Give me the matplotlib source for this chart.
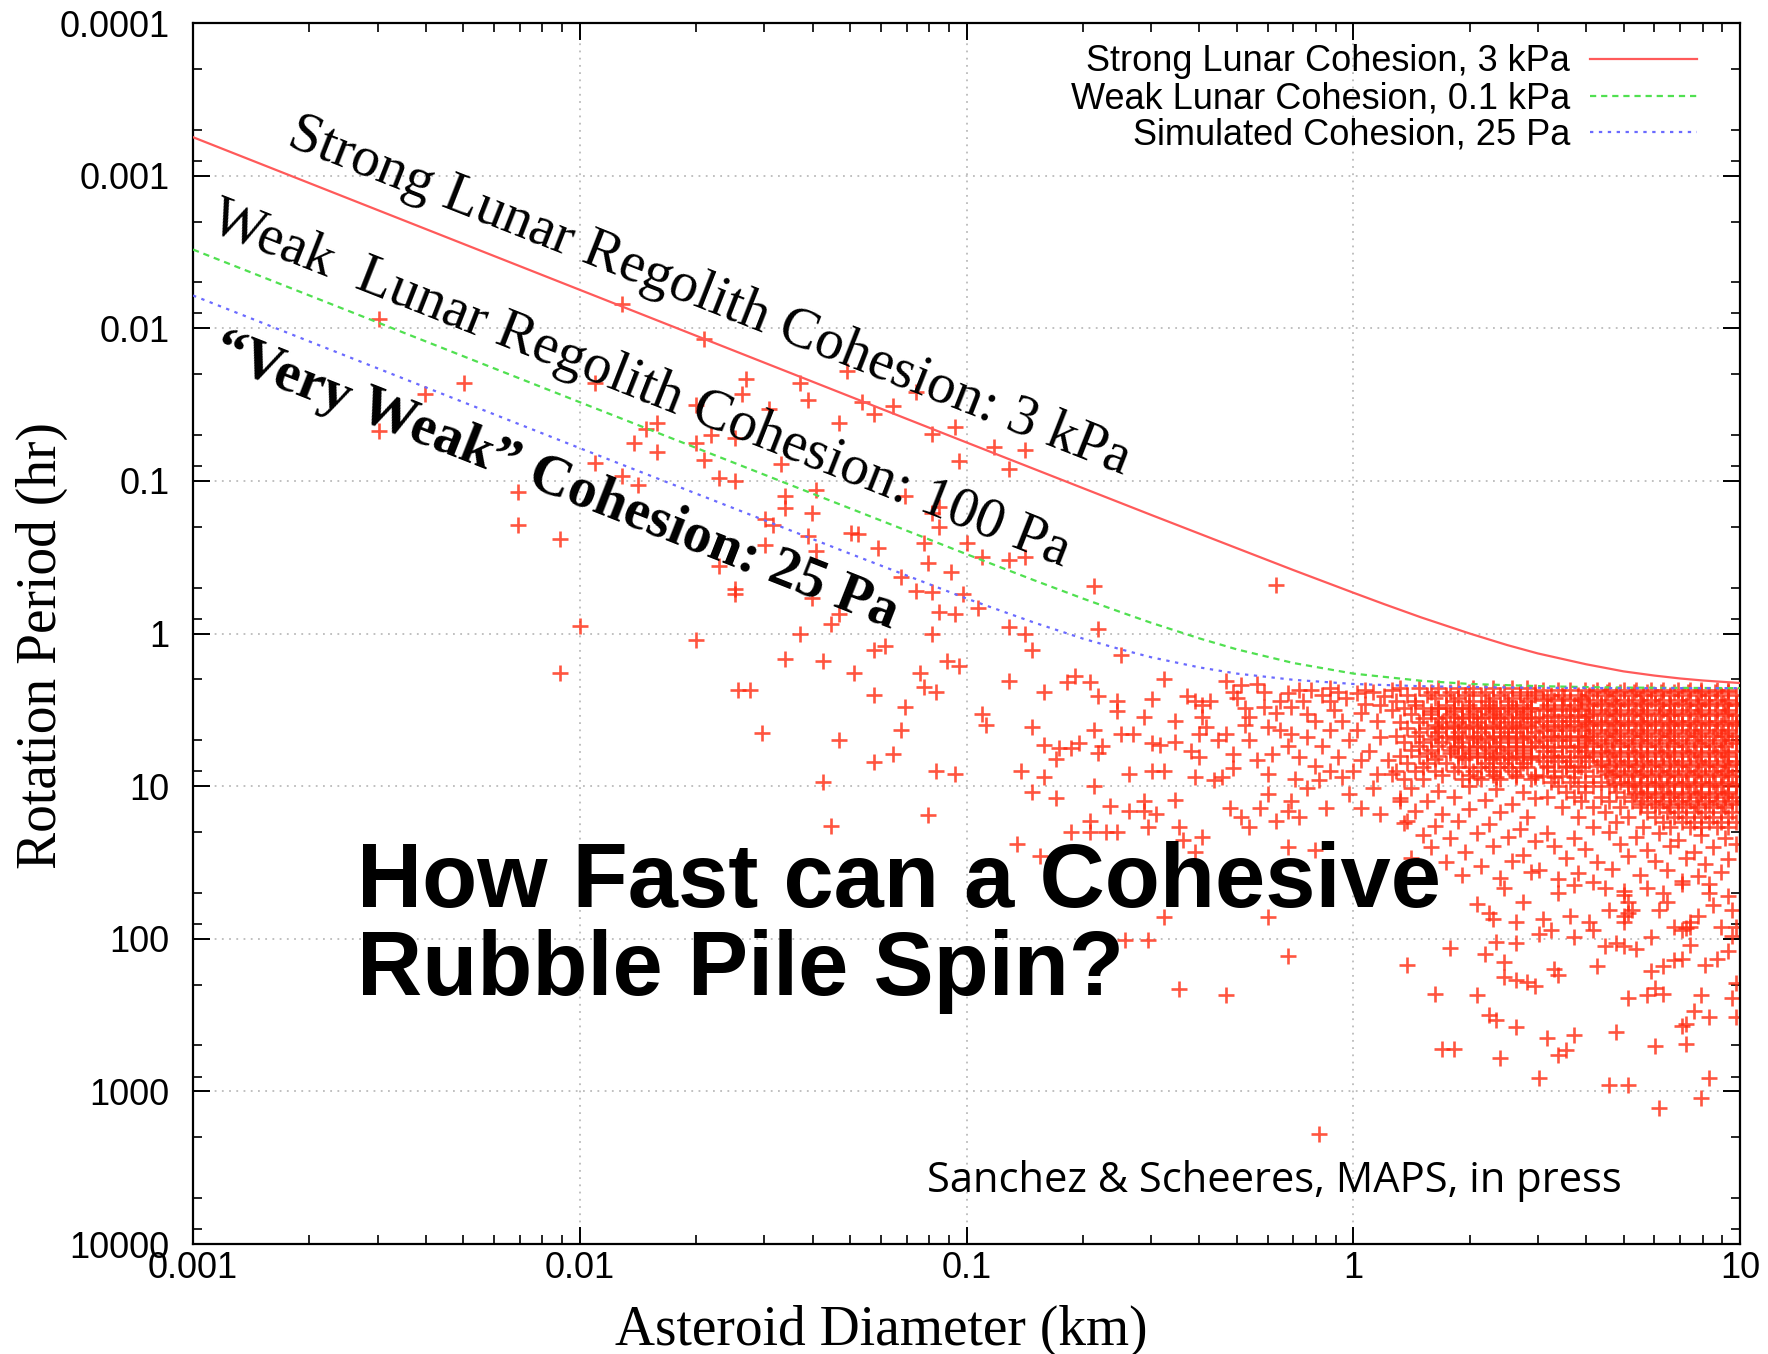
import numpy as np
import matplotlib
matplotlib.use('Agg')
import matplotlib.pyplot as plt
from matplotlib.ticker import LogLocator, NullFormatter, FuncFormatter

plt.rcParams['font.family'] = ['Liberation Sans', 'DejaVu Sans']

### spin limit curves: diameter (km) / period (hr)
strong_d = [0.001, 0.01, 0.1, 0.3, 0.5, 0.7, 1, 1.2, 1.5, 2, 2.5, 3, 4, 5, 6, 7, 8, 10]
strong_p = [5.6e-4, 5.6e-3, 0.056, 0.167, 0.276, 0.384, 0.54, 0.641, 0.785, 1.0, 1.19, 1.35, 1.59,
            1.77, 1.885, 1.97, 2.03, 2.11]
weak_d = [0.001, 0.01, 0.1, 0.15, 0.2, 0.25, 0.3, 0.4, 0.5, 0.7, 1, 1.5, 2, 3, 4, 5, 10]
weak_p = [3.05e-3, 0.0305, 0.302, 0.449, 0.59, 0.723, 0.85, 1.076, 1.27, 1.56, 1.83, 2.04, 2.14,
          2.21, 2.243, 2.26, 2.28]
sim_d = [0.001, 0.01, 0.05, 0.1, 0.15, 0.2, 0.25, 0.3, 0.4, 0.5, 0.7, 1, 1.5, 2, 3, 5, 10]
sim_p = [6.1e-3, 0.061, 0.30, 0.59, 0.85, 1.08, 1.268, 1.43, 1.667, 1.83, 2.01, 2.14, 2.214, 2.24,
         2.267, 2.28, 2.28]

### asteroids, (log10 diameter km, log10 period hr)
sparse_pts = [
 (-2.52,-2.06),(-1.89,-2.16),(-1.68,-1.93),(-2.30,-1.64),(-2.40,-1.57),(-2.52,-1.33),(-1.96,-1.64),
 (-1.57,-1.67),(-1.58,-1.57),(-1.70,-1.50),(-1.80,-1.38),(-1.83,-1.34),(-1.86,-1.25),(-1.80,-1.19),
 (-1.70,-1.25),(-1.66,-1.30),(-1.60,-1.28),(-1.68,-1.14),(-1.96,-1.12),(-1.89,-1.03),(-1.85,-0.97),
 (-1.64,-1.02),(-1.60,-1.00),(-2.16,-0.93),(-2.16,-0.71),(-2.05,-0.62),(-2.00,-0.05),(-2.05,0.26),
 (-1.70,0.04),(-1.59,0.37),(-1.56,0.37),(-1.60,-0.26),(-1.60,-0.29),(-1.64,-0.44),(-1.53,0.65),
 (-1.41,-1.53),(-1.51,-1.47),(-1.43,-1.64),(-1.27,-1.52),(-1.24,-1.44),(-1.19,-1.49),(-1.33,-1.38),
 (-1.13,-1.58),(-1.09,-1.31),(-1.03,-1.35),(-1.02,-1.13),(-0.93,-1.22),(-0.85,-1.20),(-0.89,-1.08),
 (-1.48,-1.11),(-1.47,-0.90),(-1.47,-0.82),(-1.39,-0.94),(-1.40,-0.79),(-1.52,-0.75),(-1.50,-0.71),
 (-1.52,-0.58),(-1.41,-0.64),(-1.39,-0.54),(-1.30,-0.66),(-1.28,-0.65),(-1.23,-0.56),(-1.16,-0.90),
 (-1.07,-0.83),(-1.07,-0.70),(-1.09,-0.79),(-1.11,-0.59),(-1.10,-0.46),(-1.04,-0.40),(-1.00,-0.59),
 (-0.96,-0.50),(-0.89,-0.48),(-0.85,-0.50),(-1.17,-0.37),(-1.13,-0.28),(-1.09,-0.27),(-1.01,-0.26),
 (-1.07,-0.14),(-1.03,-0.13),(-0.97,-0.17),(-1.33,-0.13),(-1.35,-0.06),(-1.40,-0.23),(-1.43,0.00),
 (-1.09,0.00),(-0.89,-0.04),(-0.85,0.00),(-0.67,-0.31),(-0.66,-0.03),(-0.83,0.11),(-0.60,0.14),
 (-1.47,0.17),(-1.37,0.18),(-1.24,0.11),(-1.21,0.08),(-1.29,0.26),(-1.12,0.26),(-1.11,0.35),
 (-1.08,0.38),(-1.05,0.18),(-1.02,0.21),(-0.89,0.31),(-1.24,0.40),(-1.16,0.48),(-1.17,0.63),
 (-0.96,0.53),(-0.95,0.60),(-1.33,0.70),(-1.19,0.79),(-1.24,0.84),(-1.08,0.90),(-1.03,0.92),
 (-1.37,0.97),(-1.10,1.19),(-1.35,1.26),(-0.86,0.90),(-0.83,1.04),(-0.77,1.08),(-0.80,0.94),
 (-0.80,0.38),(-0.74,0.32),(-0.72,0.28),(-0.68,0.32),(-0.66,0.41),(-0.61,0.44),(-0.61,0.51),
 (-0.54,0.55),(-0.52,0.43),(-0.49,0.30),(-0.46,0.57),(-0.67,0.63),(-0.60,0.66),(-0.57,0.66),
 (-0.83,0.61),(-0.80,0.73),(-0.76,0.75),(-0.73,0.75),(-0.71,0.72),(-0.77,0.82),(-0.66,0.78),
 (-0.65,0.74),(-0.58,0.92),(-0.52,0.90),(-0.49,0.90),(-0.52,0.72),(-0.50,0.73),(-0.46,0.71),
 (-0.67,1.00),(-0.63,1.13),(-0.58,1.16),(-0.54,1.10),(-0.54,1.16),(-0.51,1.18),(-0.46,1.09),
 (-0.68,1.23),(-0.73,1.30),(-0.68,1.30),(-0.64,1.30),(-0.61,1.30),(-0.53,1.27),(-0.45,1.27),
 (-0.44,1.35),(-0.87,1.38),(-0.39,1.33),(-0.43,0.41),(-0.41,0.44),(-0.39,0.47),(-0.37,0.44),
 (-0.39,0.55),(-0.38,0.61),(-0.40,0.66),(-0.42,0.77),(-0.40,0.81),(-0.41,0.94),(-0.36,0.96),
 (-0.35,0.70),(-1.31,-1.72),(-0.20,-0.32),(-0.81,1.46),(-0.59,2.01),(-0.53,2.01),(-0.49,1.86),
 (-0.41,1.43),
]
mid_pts = [
 (-0.33,0.31),(-0.31,0.38),(-0.29,0.34),(-0.27,0.55),(-0.28,0.49),(-0.23,0.38),(-0.23,0.48),
 (-0.22,0.61),(-0.19,0.44),(-0.17,0.39),(-0.16,0.48),(-0.13,0.44),(-0.11,0.37),(-0.08,0.40),
 (-0.06,0.44),(-0.04,0.38),(-0.02,0.42),(0.01,0.39),(0.03,0.46),(0.05,0.38),(0.08,0.41),(0.10,0.37),
 (-0.33,0.66),(-0.31,0.79),(-0.31,0.88),(-0.27,0.70),(-0.25,0.83),(-0.21,0.79),(-0.19,0.63),
 (-0.17,0.74),(-0.16,0.66),(-0.14,0.81),(-0.12,0.68),(-0.10,0.57),(-0.08,0.74),(-0.06,0.63),
 (-0.04,0.81),(-0.03,0.57),(-0.01,0.70),(0.01,0.63),(0.02,0.83),(0.04,0.77),(0.06,0.57),(0.07,0.68),
 (0.09,0.83),(0.10,0.50),(-0.34,0.94),(-0.32,1.14),(-0.29,1.20),(-0.27,1.27),(-0.24,1.14),
 (-0.22,1.05),(-0.20,1.23),(-0.17,1.16),(-0.16,1.10),(-0.14,1.20),(-0.12,1.01),(-0.09,0.96),
 (-0.07,1.14),(-0.06,0.90),(-0.03,0.94),(-0.01,1.05),(0.02,1.14),(0.05,1.01),(0.07,1.18),(0.10,0.92),
 (0.12,1.10),(0.14,1.23),(-0.17,1.40),(-0.10,1.42),(-0.30,0.42),(-0.25,0.33),(-0.20,0.52),
 (-0.12,0.53),(-0.05,0.50),(0.02,0.52),(0.07,0.47),(-0.28,0.60),(-0.10,0.87),(0.00,0.90),(0.06,0.92),
 (-0.15,0.95),(-0.22,0.92),(0.03,0.37),(-0.06,0.36),(-0.14,0.37),
 (0.15,1.01),(0.22,1.03),(0.30,1.00),(0.37,1.02),(0.44,1.04),(0.12,1.08),(0.19,1.10),(0.26,1.07),
 (0.34,1.09),(0.41,1.12),(0.47,1.08),(0.16,1.16),(0.23,1.18),(0.30,1.15),(0.38,1.17),(0.45,1.20),
 (0.13,1.24),(0.21,1.26),(0.27,1.23),(0.35,1.25),(0.43,1.28),(0.18,1.32),(0.25,1.34),(0.32,1.31),
 (0.40,1.33),(0.47,1.36),(0.20,1.40),(0.29,1.43),(0.36,1.39),(0.44,1.45),(0.24,1.50),(0.33,1.52),
 (0.41,1.49),(0.46,1.56),(0.28,1.58),(0.38,1.60),(0.15,1.47),
 (0.50,1.31),(0.57,1.34),(0.66,1.30),(0.73,1.33),(0.79,1.31),(0.84,1.35),(0.90,1.32),(0.96,1.34),
 (0.52,1.39),(0.60,1.41),(0.69,1.38),(0.76,1.42),(0.82,1.39),(0.88,1.43),(0.93,1.40),(0.99,1.38),
 (0.55,1.47),(0.63,1.50),(0.71,1.46),(0.78,1.49),(0.86,1.47),(0.91,1.51),(0.97,1.48),
 (0.48,1.55),(0.58,1.57),(0.67,1.54),(0.74,1.58),(0.81,1.55),(0.89,1.59),(0.95,1.56),
 (0.53,1.61),(0.62,1.63),(0.85,1.62),(0.92,1.64),
]
tail_pts = [
 (-0.22,1.86),(-0.17,2.11),(-0.45,2.33),(-0.33,2.37),(-0.09,3.28),(0.14,2.17),(0.25,2.06),(0.21,2.36),
 (0.32,2.37),(0.23,2.72),(0.26,2.72),(0.38,2.78),(0.48,2.91),(0.35,2.50),(0.37,2.53),(0.42,2.58),
 (0.50,2.65),(0.53,2.76),(0.55,2.73),(0.57,2.63),(0.66,2.96),(0.71,2.96),(0.68,2.61),(0.78,2.70),
 (0.79,3.11),(0.86,2.69),(0.85,2.57),(0.86,2.56),(0.88,2.47),(0.92,2.51),(0.92,2.91),(0.90,3.04),
 (0.71,2.39),(0.76,2.37),(0.80,2.36),(0.78,2.32),(0.90,2.37),(0.63,2.18),(0.52,2.20),(0.53,2.24),
 (0.39,2.25),(0.42,2.27),(0.45,2.28),(0.47,2.31),(0.39,2.15),(0.34,2.10),(0.37,2.02),(0.42,2.03),
 (0.48,1.97),(0.57,1.99),(0.65,2.05),(0.68,2.03),(0.70,2.05),(0.73,2.07),(0.77,1.99),(0.80,2.18),
 (0.83,2.14),(0.85,2.13),(0.87,2.04),(0.91,2.17),(0.94,2.13),(0.97,2.08),(0.99,2.29),(0.98,2.39),
 (0.99,2.51),(0.77,2.21),(0.32,1.77),(0.35,1.83),(0.36,1.87),(0.42,1.89),(0.49,1.87),(0.51,1.94),
 (0.56,1.85),(0.61,1.89),(0.62,1.94),(0.66,1.81),(0.70,1.85),(0.72,1.81),(0.79,1.81),(0.81,1.76),
 (0.87,1.89),(0.89,1.85),(0.93,1.78),(0.95,1.92),(0.98,1.98),(0.83,1.92),(0.97,1.72),(0.39,1.67),
 (0.44,1.76),(0.53,1.70),(0.57,1.65),(0.65,1.67),(0.70,1.69),(0.76,1.67),(0.80,1.70),(0.85,1.64),
 (0.92,1.70),(0.98,1.81),(0.99,1.92),(0.70,1.71),(0.71,1.76),(0.71,1.83),(0.70,1.89),(0.86,1.93),
 (0.87,1.92),(0.85,1.94),
]

# crowded part (too dense to separate single marks): rows of log10 period with log10 diameters
row_logp = [0.36, 0.40, 0.44, 0.49, 0.53, 0.58, 0.62, 0.67, 0.71, 0.76, 0.80, 0.85, 0.90, 0.95,
            0.38, 0.42, 0.465, 0.51, 0.555, 0.60, 0.645, 0.69, 0.735, 0.78, 0.825, 0.875, 0.925,
            0.37, 0.40, 0.435, 0.47, 0.50, 0.535, 0.57, 0.60, 0.635, 0.67, 0.70, 0.735, 0.77, 0.80,
            0.835, 0.87, 0.90, 0.935, 0.97, 1.00, 1.035, 1.07, 1.10, 1.135, 1.17, 1.20, 1.235, 1.27,
            0.385, 0.4525, 0.5175, 0.5875, 0.6525, 0.7175, 0.785, 0.8525, 0.9175, 0.985, 1.05, 1.12,
            0.42, 0.485, 0.55, 0.615, 0.68, 0.745, 0.81, 0.875, 0.94]
row_logd = [
 [0.12, 0.17, 0.22, 0.27, 0.31, 0.36, 0.41, 0.45],
 [0.14, 0.19, 0.24, 0.29, 0.33, 0.38, 0.43, 0.47],
 [0.11, 0.16, 0.26, 0.31, 0.35, 0.40, 0.45],
 [0.13, 0.18, 0.22, 0.28, 0.33, 0.37, 0.42, 0.46],
 [0.15, 0.20, 0.25, 0.30, 0.35, 0.39, 0.44],
 [0.12, 0.17, 0.23, 0.27, 0.32, 0.37, 0.41, 0.46],
 [0.14, 0.19, 0.24, 0.29, 0.34, 0.39, 0.43],
 [0.11, 0.16, 0.21, 0.26, 0.31, 0.36, 0.40, 0.45],
 [0.13, 0.18, 0.23, 0.28, 0.33, 0.38, 0.42, 0.47],
 [0.15, 0.20, 0.25, 0.30, 0.35, 0.40, 0.44],
 [0.12, 0.17, 0.22, 0.27, 0.32, 0.37, 0.42, 0.46],
 [0.14, 0.19, 0.24, 0.34, 0.39, 0.44],
 [0.11, 0.16, 0.21, 0.26, 0.31, 0.36, 0.41],
 [0.13, 0.18, 0.28, 0.33, 0.38, 0.46],
 [0.20, 0.25, 0.30, 0.34, 0.39, 0.43, 0.47],
 [0.21, 0.27, 0.36, 0.41, 0.46],
 [0.16, 0.24, 0.30, 0.35, 0.40, 0.44],
 [0.20, 0.26, 0.31, 0.36, 0.41, 0.45],
 [0.18, 0.22, 0.28, 0.33, 0.38, 0.43, 0.47],
 [0.21, 0.26, 0.31, 0.36, 0.41, 0.45],
 [0.17, 0.22, 0.27, 0.33, 0.38, 0.42, 0.47],
 [0.20, 0.26, 0.31, 0.35, 0.40, 0.44],
 [0.17, 0.22, 0.27, 0.32, 0.37, 0.42, 0.46],
 [0.19, 0.25, 0.30, 0.34, 0.39, 0.44],
 [0.21, 0.29, 0.36, 0.41, 0.46],
 [0.18, 0.27, 0.33, 0.38, 0.43],
 [0.23, 0.30, 0.36, 0.42, 0.47],
 [0.49, 0.53, 0.56, 0.60, 0.63, 0.66, 0.70, 0.73, 0.77, 0.80, 0.84, 0.87, 0.90, 0.94, 0.97],
 [0.51, 0.54, 0.58, 0.61, 0.65, 0.68, 0.72, 0.75, 0.78, 0.82, 0.85, 0.89, 0.92, 0.95, 0.99],
 [0.49, 0.52, 0.56, 0.59, 0.63, 0.67, 0.70, 0.74, 0.77, 0.80, 0.84, 0.87, 0.91, 0.94, 0.97],
 [0.50, 0.54, 0.57, 0.61, 0.64, 0.68, 0.71, 0.75, 0.79, 0.82, 0.86, 0.89, 0.92, 0.96, 0.99],
 [0.49, 0.52, 0.56, 0.59, 0.62, 0.66, 0.69, 0.73, 0.76, 0.80, 0.83, 0.87, 0.90, 0.94, 0.97],
 [0.51, 0.55, 0.58, 0.61, 0.65, 0.68, 0.72, 0.75, 0.79, 0.82, 0.85, 0.89, 0.92, 0.96, 0.99],
 [0.49, 0.53, 0.56, 0.60, 0.63, 0.67, 0.70, 0.74, 0.77, 0.81, 0.84, 0.87, 0.91, 0.94, 0.98],
 [0.50, 0.54, 0.57, 0.61, 0.64, 0.68, 0.71, 0.75, 0.78, 0.82, 0.85, 0.88, 0.92, 0.95, 0.99],
 [0.49, 0.52, 0.55, 0.59, 0.62, 0.66, 0.69, 0.73, 0.76, 0.80, 0.83, 0.87, 0.90, 0.94, 0.97],
 [0.51, 0.54, 0.58, 0.61, 0.65, 0.68, 0.72, 0.75, 0.79, 0.82, 0.86, 0.89, 0.93, 0.96, 0.99],
 [0.49, 0.53, 0.56, 0.60, 0.63, 0.67, 0.70, 0.74, 0.77, 0.81, 0.84, 0.88, 0.91, 0.95, 0.98],
 [0.50, 0.55, 0.58, 0.62, 0.65, 0.69, 0.72, 0.76, 0.79, 0.83, 0.86, 0.90, 0.93, 0.96],
 [0.49, 0.52, 0.57, 0.60, 0.64, 0.67, 0.71, 0.74, 0.78, 0.81, 0.85, 0.88, 0.92, 0.95, 0.99],
 [0.51, 0.54, 0.59, 0.62, 0.66, 0.69, 0.73, 0.76, 0.80, 0.83, 0.87, 0.90, 0.94, 0.97],
 [0.49, 0.53, 0.56, 0.61, 0.64, 0.68, 0.71, 0.75, 0.78, 0.82, 0.85, 0.89, 0.92, 0.96, 0.99],
 [0.50, 0.55, 0.58, 0.63, 0.66, 0.70, 0.73, 0.77, 0.80, 0.84, 0.87, 0.91, 0.94, 0.97],
 [0.52, 0.57, 0.60, 0.65, 0.68, 0.72, 0.75, 0.79, 0.82, 0.86, 0.89, 0.93, 0.96, 0.99],
 [0.49, 0.54, 0.62, 0.67, 0.70, 0.74, 0.77, 0.81, 0.84, 0.88, 0.91, 0.95, 0.98],
 [0.51, 0.56, 0.60, 0.64, 0.69, 0.72, 0.76, 0.79, 0.83, 0.86, 0.90, 0.93, 0.97],
 [0.53, 0.58, 0.62, 0.66, 0.71, 0.74, 0.78, 0.81, 0.85, 0.88, 0.92, 0.95, 0.99],
 [0.55, 0.60, 0.68, 0.73, 0.76, 0.80, 0.83, 0.87, 0.90, 0.94, 0.97],
 [0.50, 0.57, 0.64, 0.70, 0.75, 0.78, 0.82, 0.85, 0.89, 0.92, 0.96, 0.99],
 [0.59, 0.66, 0.72, 0.77, 0.80, 0.84, 0.87, 0.91, 0.94, 0.98],
 [0.54, 0.62, 0.69, 0.74, 0.79, 0.82, 0.86, 0.89, 0.93, 0.96],
 [0.65, 0.76, 0.81, 0.84, 0.88, 0.91, 0.95, 0.98],
 [0.58, 0.71, 0.78, 0.83, 0.86, 0.90, 0.93, 0.97],
 [0.68, 0.80, 0.85, 0.88, 0.92, 0.95, 0.99],
 [0.62, 0.75, 0.82, 0.87, 0.90, 0.94, 0.97],
 [0.62, 0.655, 0.69, 0.725, 0.76, 0.795, 0.83, 0.865, 0.90, 0.935, 0.97],
 [0.605, 0.64, 0.675, 0.71, 0.745, 0.78, 0.815, 0.85, 0.885, 0.92, 0.955, 0.99],
 [0.62, 0.655, 0.69, 0.725, 0.76, 0.795, 0.83, 0.865, 0.90, 0.935, 0.97],
 [0.605, 0.64, 0.675, 0.71, 0.745, 0.78, 0.815, 0.85, 0.885, 0.92, 0.955, 0.99],
 [0.62, 0.655, 0.69, 0.725, 0.76, 0.795, 0.83, 0.865, 0.90, 0.935, 0.97],
 [0.605, 0.64, 0.675, 0.71, 0.745, 0.78, 0.815, 0.85, 0.885, 0.92, 0.955, 0.99],
 [0.62, 0.655, 0.69, 0.725, 0.76, 0.795, 0.83, 0.865, 0.90, 0.935, 0.97],
 [0.64, 0.675, 0.71, 0.745, 0.78, 0.815, 0.85, 0.885, 0.92, 0.955, 0.99],
 [0.655, 0.69, 0.725, 0.76, 0.795, 0.83, 0.865, 0.90, 0.935, 0.97],
 [0.675, 0.71, 0.745, 0.78, 0.815, 0.85, 0.885, 0.92, 0.955, 0.99],
 [0.725, 0.76, 0.795, 0.83, 0.865, 0.90, 0.935, 0.97],
 [0.745, 0.78, 0.815, 0.85, 0.885, 0.92, 0.955, 0.99],
 [0.50, 0.545, 0.59],
 [0.22, 0.26, 0.30, 0.34, 0.38, 0.42, 0.46, 0.50, 0.54, 0.58],
 [0.24, 0.28, 0.32, 0.36, 0.40, 0.44, 0.48, 0.52, 0.56, 0.60],
 [0.22, 0.26, 0.30, 0.34, 0.38, 0.42, 0.46, 0.50, 0.54, 0.58],
 [0.24, 0.28, 0.32, 0.36, 0.40, 0.44, 0.48, 0.52, 0.56, 0.60],
 [0.26, 0.30, 0.34, 0.38, 0.42, 0.46, 0.50, 0.54, 0.58],
 [0.28, 0.32, 0.36, 0.40, 0.44, 0.48, 0.52, 0.56, 0.60],
 [0.30, 0.35, 0.40, 0.45, 0.50, 0.55, 0.59],
 [0.32, 0.37, 0.42, 0.47, 0.52, 0.57],
]

x_ticks = [0.001, 0.01, 0.1, 1, 10]
y_ticks = [0.0001, 0.001, 0.01, 0.1, 1, 10, 100, 1000, 10000]

fig = plt.figure(figsize=(17.68, 13.54), dpi=100)
ax = fig.add_axes([0.1092, 0.0812, 0.8750, 0.9018])
ax.set_xscale('log'); ax.set_yscale('log')
ax.set_xlim(0.001, 10); ax.set_ylim(10000, 0.0001)

pts = np.array(sparse_pts + mid_pts + tail_pts)
bx = [d for row in row_logd for d in row]
by = [p for p, row in zip(row_logp, row_logd) for d in row]
lx = np.concatenate([pts[:, 0], bx]); ly = np.concatenate([pts[:, 1], by])
ax.plot(10**lx, 10**ly, ls='none', marker='+', ms=11, mew=1.9, color='#ff2a10', alpha=0.8, zorder=2)

ax.plot(strong_d, strong_p, '-', color='#ff5a5a', lw=1.6, zorder=3, label='Strong Lunar Cohesion, 3 kPa')
ax.plot(weak_d, weak_p, color='#50e050', lw=1.6, dashes=(2.8, 2.2), zorder=3, label='Weak Lunar Cohesion, 0.1 kPa')
ax.plot(sim_d, sim_p, color='#6a6aff', lw=1.6, dashes=(1.5, 2.5), zorder=3, label='Simulated Cohesion, 25 Pa')

ax.xaxis.set_major_locator(plt.FixedLocator(x_ticks))
ax.yaxis.set_major_locator(plt.FixedLocator(y_ticks))
ax.xaxis.set_minor_locator(LogLocator(base=10, subs=np.arange(2, 10), numticks=20))
ax.yaxis.set_minor_locator(LogLocator(base=10, subs=(2, 5, 8), numticks=20))
ax.xaxis.set_minor_formatter(NullFormatter()); ax.yaxis.set_minor_formatter(NullFormatter())
fmt = FuncFormatter(lambda v, pos: '%g' % v)
ax.xaxis.set_major_formatter(fmt); ax.yaxis.set_major_formatter(fmt)
ax.tick_params(which='both', direction='in', top=True, right=True, labelsize=26)
ax.tick_params(which='major', length=12.5, width=1.4)
ax.tick_params(which='minor', length=6.5, width=1.2)
ax.tick_params(axis='y', pad=17); ax.tick_params(axis='x', pad=5)
for s in ax.spines.values(): s.set_linewidth(1.6)
ax.grid(True, which='major', color='#bbbbbb', linestyle=(0, (1, 3)), linewidth=1.3)
ax.set_axisbelow(True)

ax.set_xlabel('Asteroid Diameter (km)', fontsize=40, family='Liberation Serif')
ax.xaxis.set_label_coords(0.445, -0.05)
ax.set_ylabel('Rotation Period (hr)', fontsize=40, family='Liberation Serif')
ax.yaxis.set_label_coords(-0.081, 0.49)

ax.legend(loc='upper right', bbox_to_anchor=(0.972, 0.9825), frameon=False, markerfirst=False,
          fontsize=26, handlelength=2.95, handletextpad=0.55, labelspacing=0.05, borderpad=0, borderaxespad=0)

rot = dict(rotation=-21.5, rotation_mode='anchor', ha='left', va='baseline', fontsize=41, family='Liberation Serif')
fig.text(0.1615, 0.8930, 'Strong Lunar Regolith Cohesion: 3 kPa', **rot)
fig.text(0.1171, 0.8300, 'Weak  Lunar Regolith Cohesion: 100 Pa', **rot)
fig.text(0.1190, 0.7334, '\u201cVery Weak\u201d Cohesion: 25 Pa', fontweight='bold', **rot)

fig.text(0.2020, 1 - 907 / 1354, 'How Fast can a Cohesive', fontsize=65, fontweight='bold', va='baseline')
fig.text(0.2020, 1 - 994.5 / 1354, 'Rubble Pile Spin?', fontsize=65, fontweight='bold', va='baseline')
fig.text(0.5245, 1 - 1192 / 1354, 'Sanchez & Scheeres, MAPS, in press', fontsize=30, family='Open Sans', va='baseline')

fig.savefig('out.png', dpi=100)
